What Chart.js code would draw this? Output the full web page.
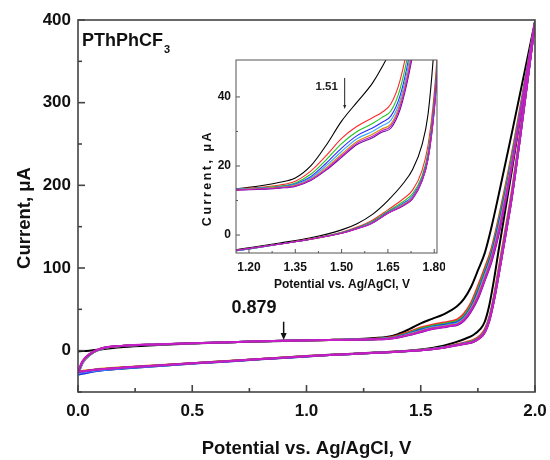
<!DOCTYPE html>
<html lang="en">
<head>
<meta charset="UTF-8">
<title>PThPhCF3 cyclic voltammogram</title>
<script src="https://cdn.jsdelivr.net/npm/chart.js"></script>
<style>
  body { margin: 0; background: #fff; }
  .wrap { position: relative; width: 550px; height: 460px; }
  #mainChart { position: absolute; left: 0; top: 0; }
  #insetChart { position: absolute; left: 190px; top: 50px; }
</style>
</head>
<body>
<div class="wrap">
  <canvas id="mainChart" width="550" height="460"></canvas>
  <canvas id="insetChart" width="255" height="250"></canvas>
</div>
<script>
// potential grids (V) for the anodic (forward) and cathodic (return) sweeps
const potentialFwd = [0, 0.02, 0.05, 0.1, 0.2, 0.35, 0.5, 0.7, 0.9, 1.1, 1.2, 1.3, 1.35, 1.4, 1.45, 1.5, 1.55, 1.6, 1.63, 1.66, 1.69, 1.72, 1.75, 1.78, 1.81, 1.85, 1.9, 2.0];
const potentialRev = [0, 0.05, 0.1, 0.2, 0.4, 0.6, 0.8, 1.0, 1.1, 1.2, 1.3, 1.4, 1.5, 1.55, 1.6, 1.65, 1.7, 1.73, 1.76, 1.78, 1.8, 1.82, 1.84, 1.87, 1.9, 2.0];

// current (uA), forward sweeps, cycles 1..8
const fwd1 = [-1, -0.5, 0, 1.5, 4.5, 6.8, 8.7, 10.4, 11.8, 13, 13.8, 15.3, 16.5, 20, 26, 33, 38.5, 44, 48.5, 54, 63, 77, 97, 118, 150, 200, 265, 398];
const fwd2 = [-26, -13, -4.5, 2.5, 6, 7.6, 9, 10.5, 12, 13, 13.6, 14.5, 15.6, 18.5, 23, 28, 31.5, 34, 35.5, 38, 45, 58, 78, 100, 124, 172, 240, 397];
const fwd3 = [-27, -14, -5, 2.3, 5.9, 7.6, 9, 10.5, 12, 13, 13.5, 14.2, 15.1, 17.6, 21.8, 26.5, 30, 32.3, 34, 36, 42.5, 55, 74, 96, 120, 168, 236, 397];
const fwd4 = [-29, -15, -5.5, 2, 5.8, 7.5, 9, 10.5, 12, 13, 13.4, 14, 14.8, 16.9, 20.8, 25.2, 28.8, 31, 32.6, 34.5, 40.5, 52.5, 71, 93, 117, 164, 232, 397];
const fwd5 = [-29, -15, -5.5, 2, 5.8, 7.5, 9, 10.5, 12, 13, 13.4, 13.9, 14.6, 16.5, 20.1, 24.2, 27.9, 30, 31.6, 33.3, 39.2, 51, 68.5, 91, 114, 160, 230, 396];
const fwd6 = [-27, -14, -5, 2.3, 5.9, 7.6, 9, 10.5, 12, 12.9, 13.3, 13.8, 14.4, 16.2, 19.5, 23.4, 27.1, 29.2, 30.7, 32.2, 38.2, 49.5, 66.5, 88, 112, 157, 228, 396];
const fwd7 = [-25, -12.5, -4, 2.6, 6.1, 7.7, 9.1, 10.6, 12, 12.9, 13.2, 13.7, 14.2, 16, 19.1, 22.9, 26.6, 28.6, 30.2, 31.6, 37.4, 48.5, 64.5, 86, 110, 154, 226, 396];
const fwd8 = [-26, -13, -4.5, 2.5, 6, 7.6, 9, 10.5, 12, 12.9, 13.1, 13.6, 14.1, 15.8, 18.8, 22.5, 26.2, 28.2, 29.8, 31, 36.5, 47.5, 63, 85, 108, 152, 225, 396];

// current (uA), return sweeps, cycles 1..8
const rev1 = [-26, -24, -22.5, -20.5, -17, -13.5, -10, -6.5, -5, -3.7, -2.3, -0.8, 1.5, 3.3, 6, 10, 15, 19, 26, 35, 55, 85, 120, 170, 220, 398];
const rev2 = [-27, -25, -23.5, -21, -17.3, -13.8, -10.2, -6.8, -5.2, -4, -2.6, -1.1, 0.8, 2.3, 4.3, 7.3, 10.5, 13, 18.5, 26, 41, 66, 98, 146, 196, 397];
const rev3 = [-29, -26, -24, -21.5, -17.5, -14, -10.4, -7, -5.3, -4, -2.6, -1.2, 0.7, 2.1, 4, 6.9, 9.7, 12, 17, 24, 39, 63, 94, 142, 192, 397];
const rev4 = [-29, -26, -24, -21.5, -17.5, -14, -10.4, -7, -5.3, -4, -2.6, -1.2, 0.6, 2, 3.8, 6.6, 9.2, 11.3, 16.3, 23, 38, 62, 92, 140, 190, 397];
const rev5 = [-27, -25, -23.5, -21, -17.3, -13.8, -10.2, -6.8, -5.2, -4, -2.6, -1.2, 0.6, 1.9, 3.7, 6.5, 9, 11, 16, 22.5, 37, 61, 91, 139, 189, 396];
const rev6 = [-25, -23.5, -22, -20, -16.8, -13.4, -10, -6.6, -5.1, -3.9, -2.6, -1.2, 0.5, 1.9, 3.6, 6.4, 8.8, 10.8, 15.8, 22.2, 36.5, 60.5, 90.5, 138.5, 188.5, 396];
const rev7 = [-26, -24, -22.5, -20.5, -17, -13.6, -10.1, -6.7, -5.2, -3.9, -2.6, -1.2, 0.5, 1.8, 3.5, 6.3, 8.6, 10.6, 15.6, 22, 36, 60, 90, 138, 188, 396];
const rev8 = [-26, -24, -22.5, -20.5, -17, -13.6, -10.1, -6.7, -5.2, -3.9, -2.6, -1.2, 0.5, 1.8, 3.5, 6.3, 8.5, 10.5, 15.5, 22, 36, 60, 90, 138, 188, 396];

const forwardScans = [fwd1, fwd2, fwd3, fwd4, fwd5, fwd6, fwd7, fwd8];
const returnScans = [rev1, rev2, rev3, rev4, rev5, rev6, rev7, rev8];
const cycleColors = ['#000000', '#ff2a2a', '#22c322', '#2a2aff', '#3aa6ff', '#d48a00', '#c81ec8', '#6a0aa0'];
const drawPriority = [7, 6, 5, 4, 3, 2, 0, 1]; // lower = drawn on top

// axes
const mainXTicks = [0, 0.5, 1.0, 1.5, 2.0];
const mainXMinor = [0.25, 0.75, 1.25, 1.75];
const mainYTicks = [0, 100, 200, 300, 400];
const mainYMinor = [-50, 50, 150, 250, 350];
const insetXTicks = [1.20, 1.35, 1.50, 1.65, 1.80];
const insetXMinor = [1.275, 1.425, 1.575, 1.725];
const insetYTicks = [0, 20, 40];
const insetYMinor = [10, 30];

const FONT = 'Arial, "Liberation Sans", Helvetica, sans-serif';

function buildDatasets(lineWidth) {
    const sets = [];
    cycleColors.forEach((color, i) => {
        const common = {
            borderColor: color, backgroundColor: color, borderWidth: lineWidth,
            showLine: true, pointRadius: 0, fill: false,
            cubicInterpolationMode: 'monotone', order: drawPriority[i]
        };
        sets.push(Object.assign({ label: 'cycle ' + (i + 1) + ' forward',
            data: potentialFwd.map((v, k) => ({ x: v, y: forwardScans[i][k] })) }, common));
        sets.push(Object.assign({ label: 'cycle ' + (i + 1) + ' return',
            data: potentialRev.map((v, k) => ({ x: v, y: returnScans[i][k] })) }, common));
    });
    return sets;
}

// keep tick labels from shrinking the plot area
function fixX(h) {
    return s => { s.height = h; s.paddingLeft = 0; s.paddingRight = 0; };
}
function fixY(w) {
    return s => { s.width = w; s.paddingTop = 0; s.paddingBottom = 0; };
}

// box frame + inward tick marks
function frameTicks(id, cfg) {
    return {
        id: id,
        afterDatasetsDraw(chart) {
            const { ctx, chartArea: a, scales: { x, y } } = chart;
            ctx.save();
            ctx.strokeStyle = cfg.color;
            ctx.lineWidth = cfg.width;
            ctx.strokeRect(a.left, a.top, a.right - a.left, a.bottom - a.top);
            const xt = (vals, len) => vals.forEach(v => {
                const px = x.getPixelForValue(v);
                ctx.beginPath(); ctx.moveTo(px, a.bottom); ctx.lineTo(px, a.bottom - len); ctx.stroke();
            });
            const yt = (vals, len) => vals.forEach(v => {
                const py = y.getPixelForValue(v);
                ctx.beginPath(); ctx.moveTo(a.left, py); ctx.lineTo(a.left + len, py); ctx.stroke();
            });
            xt(cfg.xMajor, cfg.major); xt(cfg.xMinor, cfg.minor);
            yt(cfg.yMajor, cfg.major); yt(cfg.yMinor, cfg.minor);
            ctx.restore();
            if (cfg.extra) cfg.extra(chart);
        }
    };
}

function arrowDown(ctx, px, top, bottom, head, w) {
    ctx.beginPath(); ctx.moveTo(px, top); ctx.lineTo(px, bottom - head + 1); ctx.stroke();
    ctx.beginPath(); ctx.moveTo(px - w, bottom - head); ctx.lineTo(px + w, bottom - head); ctx.lineTo(px, bottom); ctx.closePath(); ctx.fill();
}

new Chart(document.getElementById('mainChart'), {
    type: 'scatter',
    data: { datasets: buildDatasets(2) },
    options: {
        responsive: false, animation: false,
        layout: { padding: { top: 20, right: 15, left: 0, bottom: 0 } },
        plugins: { legend: { display: false }, tooltip: { enabled: false } },
        scales: {
            x: {
                type: 'linear', min: 0, max: 2,
                afterFit: fixX(68),
                afterBuildTicks: s => { s.ticks = mainXTicks.map(v => ({ value: v })); },
                grid: { display: false, drawTicks: false }, border: { display: false },
                ticks: { padding: 9, color: '#111', font: { family: FONT, size: 17, weight: 'bold' },
                         maxRotation: 0, autoSkip: false, callback: v => v.toFixed(1) },
                title: { display: true, text: 'Potential vs. Ag/AgCl, V', color: '#111',
                         font: { family: FONT, size: 18.5, weight: 'bold' }, padding: { top: 0, bottom: 0 } }
            },
            y: {
                type: 'linear', min: -50, max: 400,
                afterFit: fixY(78),
                afterBuildTicks: s => { s.ticks = mainYTicks.map(v => ({ value: v })); },
                grid: { display: false, drawTicks: false }, border: { display: false },
                ticks: { padding: 7, color: '#111', font: { family: FONT, size: 17, weight: 'bold' },
                         callback: v => String(v) }
            }
        }
    },
    plugins: [frameTicks('mainFrame', {
        color: '#444', width: 1.6, major: 7, minor: 4,
        xMajor: mainXTicks, xMinor: mainXMinor, yMajor: mainYTicks, yMinor: mainYMinor,
        extra(chart) {
            const { ctx, chartArea: a, scales: { x, y } } = chart;
            ctx.save();
            ctx.fillStyle = '#111'; ctx.strokeStyle = '#111';
            ctx.font = 'bold 18px ' + FONT;
            ctx.textBaseline = 'alphabetic'; ctx.textAlign = 'left';
            ctx.fillText('PThPhCF', a.left + 4, a.top + 26);
            const w = ctx.measureText('PThPhCF').width;
            ctx.font = 'bold 11px ' + FONT;
            ctx.fillText('3', a.left + 5 + w, a.top + 33);
            // peak marker
            ctx.font = 'bold 18px ' + FONT;
            ctx.textAlign = 'center'; ctx.textBaseline = 'middle';
            ctx.fillText('0.879', x.getPixelForValue(0.77), y.getPixelForValue(52));
            ctx.lineWidth = 1.5;
            arrowDown(ctx, x.getPixelForValue(0.9), y.getPixelForValue(35), y.getPixelForValue(13), 7, 3);
            // y title
            ctx.translate(25, 218); ctx.rotate(-Math.PI / 2);
            ctx.font = 'bold 18.5px ' + FONT;
            ctx.fillText('Current, \u03bcA', 0, 0);
            ctx.restore();
        }
    })]
});

new Chart(document.getElementById('insetChart'), {
    type: 'scatter',
    data: { datasets: buildDatasets(1.1) },
    options: {
        responsive: false, animation: false,
        layout: { padding: { top: 10, right: 8, left: 0, bottom: 0 } },
        plugins: { legend: { display: false }, tooltip: { enabled: false } },
        scales: {
            x: {
                type: 'linear', min: 1.158, max: 1.809,
                afterFit: fixX(47),
                afterBuildTicks: s => { s.ticks = insetXTicks.map(v => ({ value: v })); },
                grid: { display: false, drawTicks: false }, border: { display: false },
                ticks: { padding: 7, color: '#111', font: { family: FONT, size: 12, weight: 'bold' },
                         maxRotation: 0, autoSkip: false, callback: v => v.toFixed(2) }
            },
            y: {
                type: 'linear', min: -5.2, max: 50.7,
                afterFit: fixY(46),
                afterBuildTicks: s => { s.ticks = insetYTicks.map(v => ({ value: v })); },
                grid: { display: false, drawTicks: false }, border: { display: false },
                ticks: { padding: 5, color: '#111', font: { family: FONT, size: 12, weight: 'bold' },
                         callback: v => String(v) }
            }
        }
    },
    plugins: [frameTicks('insetFrame', {
        color: '#555', width: 1, major: 4, minor: 2,
        xMajor: insetXTicks, xMinor: insetXMinor, yMajor: insetYTicks, yMinor: insetYMinor,
        extra(chart) {
            const { ctx, scales: { x, y } } = chart;
            ctx.save();
            ctx.fillStyle = '#222'; ctx.strokeStyle = '#222';
            ctx.font = 'bold 11.5px ' + FONT;
            ctx.textAlign = 'right'; ctx.textBaseline = 'middle';
            ctx.fillText('1.51', x.getPixelForValue(1.488), y.getPixelForValue(42.9));
            ctx.lineWidth = 1;
            arrowDown(ctx, x.getPixelForValue(1.51), y.getPixelForValue(45.5), y.getPixelForValue(36.5), 4, 1.5);
            ctx.fillStyle = '#111';
            ctx.textAlign = 'center';
            ctx.font = 'bold 12px ' + FONT;
            ctx.fillText('Potential vs. Ag/AgCl, V', 152, 235);
            ctx.translate(18, 128); ctx.rotate(-Math.PI / 2);
            ctx.font = 'bold 12.5px ' + FONT;
            ctx.letterSpacing = '2.5px';
            ctx.fillText('Current, \u03bcA', 0, 0);
            ctx.restore();
        }
    })]
});
</script>
</body>
</html>
